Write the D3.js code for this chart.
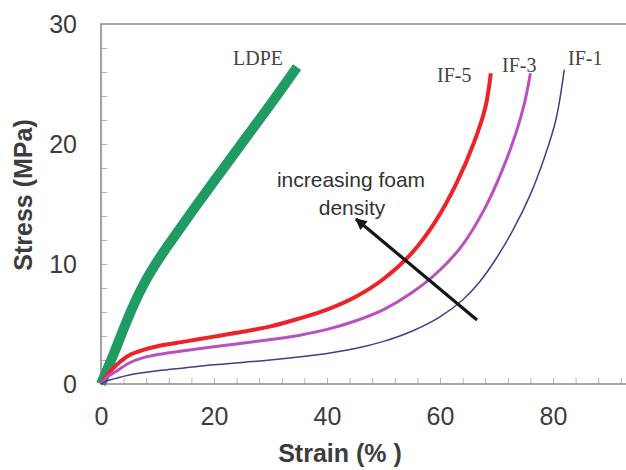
<!DOCTYPE html>
<html>
<head>
<meta charset="utf-8">
<script src="https://cdn.jsdelivr.net/npm/d3@7"></script>
<style>
  body { margin: 0; background: #fff; }
  svg { display: block; }
</style>
</head>
<body>
<div id="chart"></div>
<script>
// values (strain in %, stress in MPa)
const ldpeStrain = [0, 1, 2.5, 4, 5.5, 7, 8.5, 10.5, 13, 16, 20, 25, 30, 34.7];
const ldpeStress = [0, 1.1, 2.8, 4.6, 6.3, 7.8, 9.1, 10.6, 12.3, 14.3, 16.9, 20.1, 23.3, 26.4];

const if5Strain = [0, 1, 2, 3.5, 5, 7.5, 10, 15, 20, 25, 30, 35, 40, 45, 50, 55, 59, 63, 66, 68, 69];
const if5Stress = [0, 0.7, 1.25, 1.9, 2.4, 2.85, 3.15, 3.55, 3.95, 4.35, 4.8, 5.45, 6.2, 7.25, 8.75, 10.9, 13.4, 16.8, 20.1, 23.0, 25.9];

const if3Strain = [0, 1, 2.5, 5, 7.5, 10, 15, 20, 25, 30, 35, 40, 45, 50, 55, 60, 64, 68, 71, 73.5, 75, 76];
const if3Stress = [0, 0.55, 1.0, 1.75, 2.2, 2.45, 2.8, 3.1, 3.4, 3.7, 4.05, 4.55, 5.25, 6.2, 7.6, 9.5, 11.6, 14.7, 17.8, 21.0, 23.5, 25.9];

const if1Strain = [0, 1, 2.5, 5, 10, 15, 20, 25, 30, 35, 40, 45, 50, 55, 60, 64, 67, 70, 73, 76, 78.5, 80.5, 82];
const if1Stress = [0, 0.25, 0.45, 0.75, 1.1, 1.35, 1.6, 1.8, 2.0, 2.25, 2.55, 2.95, 3.55, 4.4, 5.6, 7.0, 8.5, 10.5, 12.9, 15.8, 18.9, 22.0, 26.2];

const xTickLabels = [0, 20, 40, 60, 80];
const yTickLabels = [0, 10, 20, 30];

const series = [
  {name: 'LDPE', x: ldpeStrain, y: ldpeStress, color: '#1f9b63', width: 10, lx: 233, ly: 65},
  {name: 'IF-5', x: if5Strain, y: if5Stress, color: '#ee2229', width: 4, lx: 437, ly: 82},
  {name: 'IF-3', x: if3Strain, y: if3Stress, color: '#bb4fc2', width: 3, lx: 502, ly: 72},
  {name: 'IF-1', x: if1Strain, y: if1Stress, color: '#3f3f8e', width: 1.5, lx: 568, ly: 65}
];

const W = 626, H = 470;
const margin = {top: 24, left: 101};
const plotW = 565, plotH = 360;

const svg = d3.select('#chart').append('svg')
  .attr('width', W)
  .attr('height', H)
  .style('background', '#fff');

const x = d3.scaleLinear().domain([0, 100]).range([margin.left, margin.left + plotW]);
const y = d3.scaleLinear().domain([0, 30]).range([margin.top + plotH, margin.top]);

const labelFont = '"Liberation Sans", Arial, sans-serif';
const axisColor = '#8c8c8c';

// minor ticks (inside)
svg.append('g')
  .attr('transform', 'translate(0,' + y(0) + ')')
  .call(d3.axisBottom(x).tickValues(d3.range(4, 100, 4)).tickSize(-6).tickFormat(''))
  .call(g => g.select('.domain').remove())
  .call(g => g.selectAll('.tick line').attr('stroke', '#b5b5b5'));

svg.append('g')
  .attr('transform', 'translate(' + x(0) + ',0)')
  .call(d3.axisLeft(y).tickValues(d3.range(2, 30, 2)).tickSize(-6).tickFormat(''))
  .call(g => g.select('.domain').remove())
  .call(g => g.selectAll('.tick line').attr('stroke', '#b5b5b5'));

// labels
svg.append('g')
  .attr('transform', 'translate(0,' + y(0) + ')')
  .call(d3.axisBottom(x).tickValues(xTickLabels).tickSize(0).tickPadding(23))
  .call(g => g.select('.domain').remove())
  .call(g => g.selectAll('text')
    .attr('font-family', labelFont).attr('font-size', 25).attr('fill', '#3c3c3c'));

svg.append('g')
  .attr('transform', 'translate(' + x(0) + ',0)')
  .call(d3.axisLeft(y).tickValues(yTickLabels).tickSize(0).tickPadding(24))
  .call(g => g.select('.domain').remove())
  .call(g => g.selectAll('text')
    .attr('font-family', labelFont).attr('font-size', 25).attr('fill', '#3c3c3c'));

// frame: left, bottom and top (right edge falls outside the picture)
svg.append('path')
  .attr('d', 'M' + W + ',' + y(30) + 'H' + x(0) + 'V' + y(0) + 'H' + W)
  .attr('fill', 'none')
  .attr('stroke', axisColor)
  .attr('stroke-width', 1.6);

// curves
const line = d3.line()
  .x(d => x(d[0]))
  .y(d => y(d[1]))
  .curve(d3.curveCatmullRom.alpha(0.5));

series.forEach(s => {
  const pts = s.x.map((v, i) => [v, s.y[i]]);
  svg.append('path')
    .datum(pts)
    .attr('fill', 'none')
    .attr('stroke', s.color)
    .attr('stroke-width', s.width)
    .attr('stroke-linejoin', 'round')
    .attr('d', line);
  svg.append('text')
    .attr('x', s.lx)
    .attr('y', s.ly)
    .attr('font-family', '"Liberation Serif", "Times New Roman", serif')
    .attr('font-size', 20)
    .attr('fill', '#444')
    .text(s.name);
});

// annotation arrow
svg.append('defs').append('marker')
  .attr('id', 'head')
  .attr('viewBox', '0 0 10 10')
  .attr('refX', 9).attr('refY', 5)
  .attr('markerWidth', 4.2).attr('markerHeight', 3.6)
  .attr('markerUnits', 'strokeWidth')
  .attr('orient', 'auto')
  .append('path')
  .attr('d', 'M0,0L10,5L0,10z')
  .attr('fill', '#151515');

svg.append('line')
  .attr('x1', 477).attr('y1', 320)
  .attr('x2', 356).attr('y2', 219)
  .attr('stroke', '#151515')
  .attr('stroke-width', 3.2)
  .attr('marker-end', 'url(#head)');

svg.append('text')
  .attr('x', 351).attr('y', 187)
  .attr('text-anchor', 'middle')
  .attr('font-family', labelFont)
  .attr('font-size', 21)
  .attr('fill', '#333')
  .text('increasing foam');
svg.append('text')
  .attr('x', 352).attr('y', 215)
  .attr('text-anchor', 'middle')
  .attr('font-family', labelFont)
  .attr('font-size', 21)
  .attr('fill', '#333')
  .text('density');

// axis titles
svg.append('text')
  .attr('x', 340).attr('y', 462)
  .attr('text-anchor', 'middle')
  .attr('font-family', labelFont)
  .attr('font-weight', 'bold')
  .attr('font-size', 25)
  .attr('fill', '#3c3c3c')
  .text('Strain (% )');

svg.append('text')
  .attr('transform', 'translate(32,195) rotate(-90)')
  .attr('text-anchor', 'middle')
  .attr('font-family', labelFont)
  .attr('font-weight', 'bold')
  .attr('font-size', 25)
  .attr('fill', '#3c3c3c')
  .text('Stress (MPa)');
</script>
</body>
</html>
